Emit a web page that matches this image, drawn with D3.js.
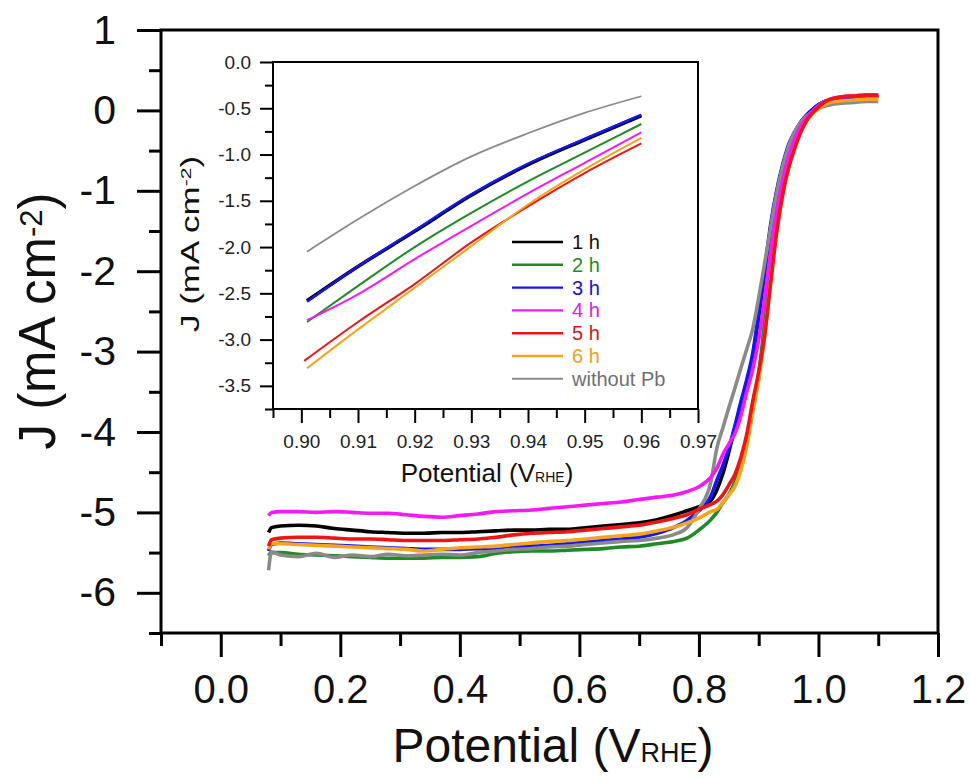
<!DOCTYPE html>
<meta charset="utf-8">
<script src="https://d3js.org/d3.v7.min.js"></script>
<style>
  body { margin: 0; background: #fff; }
  text { font-family: "Liberation Sans", Arial, sans-serif; }
</style>
<body>
<div id="chart"></div>
<script>

// main LSV curves, common potential grid (V vs RHE)
var potential = [0.08, 0.085, 0.10, 0.13, 0.16, 0.19, 0.22, 0.25, 0.28, 0.31, 0.34, 0.37, 0.40, 0.43, 0.46, 0.49,
  0.52, 0.55, 0.58, 0.61, 0.64, 0.67, 0.70, 0.73, 0.76, 0.78, 0.80, 0.82, 0.83, 0.84, 0.85, 0.86, 0.87, 0.88,
  0.89, 0.90, 0.91, 0.92, 0.93, 0.94, 0.95, 0.96, 0.97, 0.98, 0.99, 1.00, 1.01, 1.02, 1.04, 1.06, 1.08, 1.10];

var j1h = [-5.25, -5.19, -5.17, -5.16, -5.17, -5.20, -5.22, -5.24, -5.25, -5.26, -5.26, -5.25, -5.25, -5.24, -5.23, -5.22,
  -5.22, -5.21, -5.21, -5.19, -5.17, -5.15, -5.13, -5.09, -5.03, -4.98, -4.93, -4.85, -4.72, -4.52, -4.25, -3.96, -3.66, -3.38,
  -3.06, -2.57, -2.03, -1.46, -1.03, -0.70, -0.45, -0.28, -0.15, -0.06, 0.01, 0.07, 0.11, 0.13, 0.15, 0.16, 0.17, 0.17];
var j2h = [-5.54, -5.50, -5.50, -5.52, -5.53, -5.54, -5.55, -5.56, -5.57, -5.57, -5.57, -5.56, -5.56, -5.55, -5.51, -5.49,
  -5.48, -5.48, -5.47, -5.46, -5.45, -5.43, -5.42, -5.39, -5.36, -5.32, -5.22, -5.09, -5.00, -4.88, -4.78, -4.62, -4.40, -4.08,
  -3.65, -3.28, -2.62, -1.98, -1.36, -0.93, -0.60, -0.38, -0.22, -0.10, -0.01, 0.06, 0.11, 0.13, 0.15, 0.16, 0.17, 0.17];
var j3h = [-5.48, -5.40, -5.38, -5.39, -5.40, -5.41, -5.42, -5.43, -5.44, -5.45, -5.46, -5.46, -5.46, -5.45, -5.45, -5.43,
  -5.42, -5.41, -5.39, -5.37, -5.35, -5.33, -5.31, -5.26, -5.18, -5.10, -4.98, -4.80, -4.60, -4.42, -4.20, -3.93, -3.63, -3.35,
  -3.02, -2.52, -1.98, -1.42, -1.00, -0.68, -0.43, -0.27, -0.15, -0.06, 0.01, 0.07, 0.11, 0.13, 0.15, 0.16, 0.17, 0.17];
var j4h = [-5.04, -5.00, -4.99, -4.99, -5.00, -4.99, -5.00, -5.01, -5.01, -5.03, -5.05, -5.06, -5.04, -5.02, -4.99, -4.98,
  -4.97, -4.95, -4.93, -4.91, -4.89, -4.87, -4.84, -4.81, -4.78, -4.74, -4.68, -4.56, -4.45, -4.28, -4.15, -4.02, -3.80, -3.50,
  -3.22, -2.85, -2.33, -1.75, -1.26, -0.87, -0.57, -0.36, -0.20, -0.09, -0.01, 0.06, 0.11, 0.14, 0.17, 0.18, 0.19, 0.19];
var j5h = [-5.42, -5.34, -5.32, -5.31, -5.31, -5.32, -5.33, -5.33, -5.34, -5.35, -5.35, -5.35, -5.34, -5.33, -5.31, -5.28,
  -5.26, -5.25, -5.24, -5.22, -5.20, -5.18, -5.16, -5.12, -5.07, -5.03, -4.96, -4.90, -4.86, -4.78, -4.66, -4.53, -4.32, -4.03,
  -3.62, -3.25, -2.80, -2.15, -1.52, -1.05, -0.72, -0.48, -0.28, -0.13, -0.03, 0.04, 0.10, 0.14, 0.17, 0.18, 0.19, 0.19];
var j6h = [-5.46, -5.39, -5.39, -5.40, -5.41, -5.42, -5.43, -5.44, -5.45, -5.46, -5.48, -5.46, -5.44, -5.43, -5.42, -5.40,
  -5.38, -5.36, -5.35, -5.33, -5.31, -5.29, -5.27, -5.23, -5.18, -5.13, -5.07, -4.99, -4.96, -4.88, -4.78, -4.68, -4.48, -4.18,
  -3.75, -3.35, -2.80, -2.12, -1.52, -1.05, -0.70, -0.45, -0.27, -0.13, -0.04, 0.02, 0.07, 0.10, 0.12, 0.13, 0.14, 0.14];
var jNoPb = [-5.72, -5.49, -5.53, -5.55, -5.51, -5.56, -5.53, -5.55, -5.52, -5.54, -5.53, -5.52, -5.53, -5.50, -5.48, -5.46,
  -5.45, -5.43, -5.42, -5.40, -5.38, -5.36, -5.35, -5.32, -5.27, -5.19, -4.96, -4.62, -4.20, -3.95, -3.70, -3.46, -3.21, -2.97,
  -2.72, -2.33, -1.90, -1.46, -1.03, -0.70, -0.45, -0.27, -0.15, -0.07, -0.02, 0.02, 0.05, 0.07, 0.09, 0.10, 0.11, 0.11];

// inset (kinetic region)
var insetPotential = [0.901, 0.91, 0.92, 0.93, 0.94, 0.95, 0.96];
var in1h   = [-2.58, -2.21, -1.83, -1.44, -1.11, -0.84, -0.58];
var in2h   = [-2.81, -2.42, -2.00, -1.63, -1.29, -0.98, -0.67];
var in3h   = [-2.59, -2.21, -1.82, -1.43, -1.10, -0.83, -0.57];
var in4h   = [-2.79, -2.51, -2.13, -1.77, -1.42, -1.09, -0.76];
var in5h   = [-3.23, -2.81, -2.40, -1.95, -1.56, -1.20, -0.88];
var in6h   = [-3.31, -2.89, -2.44, -1.99, -1.54, -1.16, -0.82];
var inNoPb = [-2.05, -1.70, -1.34, -1.02, -0.77, -0.55, -0.37];

var labels = ["1 h", "2 h", "3 h", "4 h", "5 h", "6 h", "without Pb"];
var colors = ["#000000", "#1e8c23", "#1515f5", "#f51af5", "#f01414", "#f7a41c", "#8a8a8a"];
var textColors = ["#111111", "#1e8c23", "#1515d0", "#e020e0", "#d01818", "#f0a020", "#707070"];

var mainData = [j1h, j2h, j3h, j4h, j5h, j6h, jNoPb];
var insetData = [in1h, in2h, in3h, in4h, in5h, in6h, inNoPb];

var W = 970, H = 780;
var svg = d3.select("#chart").append("svg")
    .attr("width", W)
    .attr("height", H);

// ---------- main plot ----------
var x = d3.scaleLinear().domain([-0.1, 1.2]).range([161, 938]);
var y = d3.scaleLinear().domain([-6.5, 1]).range([633, 30]);

function styleAxis(g, fs) {
  g.select(".domain").remove();
  g.selectAll("line").attr("stroke", "#000").attr("stroke-width", 3);
  g.selectAll("text").attr("fill", "#111").style("font-size", fs + "px");
}

svg.append("g")
  .attr("transform", "translate(0,633)")
  .call(d3.axisBottom(x).tickValues(d3.range(0, 7).map(function(i) { return i * 0.2; }))
    .tickSize(24).tickPadding(18).tickFormat(d3.format(".1f")))
  .call(styleAxis, 40);
svg.append("g")
  .attr("transform", "translate(0,633)")
  .call(d3.axisBottom(x).tickValues(d3.range(0, 7).map(function(i) { return -0.1 + i * 0.2; }))
    .tickSize(13).tickFormat(""))
  .call(styleAxis, 40);

svg.append("g")
  .attr("transform", "translate(161,0)")
  .call(d3.axisLeft(y).tickValues(d3.range(-6, 2))
    .tickSize(24).tickPadding(21).tickFormat(function(d) { return String(d); }))
  .call(styleAxis, 41);
svg.append("g")
  .attr("transform", "translate(161,0)")
  .call(d3.axisLeft(y).tickValues(d3.range(0, 8).map(function(i) { return -6.5 + i; }))
    .tickSize(12).tickFormat(""))
  .call(styleAxis, 40);

svg.append("rect")
  .attr("x", x(-0.1)).attr("y", y(1))
  .attr("width", x(1.2) - x(-0.1)).attr("height", y(-6.5) - y(1))
  .attr("fill", "none").attr("stroke", "#000").attr("stroke-width", 3);

var line = d3.line()
  .x(function(d) { return x(d[0]); })
  .y(function(d) { return y(d[1]); })
  .curve(d3.curveMonotoneX);

// drawing order: black, green, blue, gray, orange, magenta, red
[0, 1, 2, 6, 5, 3, 4].forEach(function(k) {
  svg.append("path")
    .datum(potential.map(function(p, i) { return [p, mainData[k][i]]; }))
    .attr("d", line)
    .attr("fill", "none")
    .attr("stroke", colors[k])
    .attr("stroke-width", 3.6)
    .attr("stroke-linejoin", "round");
});

// axis titles
var xt = svg.append("text")
  .attr("x", 553).attr("y", 762)
  .attr("text-anchor", "middle")
  .attr("fill", "#111")
  .style("font-size", "48px");
xt.append("tspan").text("Potential (V");
xt.append("tspan").style("font-size", "27px").text("RHE");
xt.append("tspan").text(")");

var yt = svg.append("text")
  .attr("transform", "translate(55,321) rotate(-90)")
  .attr("text-anchor", "middle")
  .attr("fill", "#111")
  .style("font-size", "51px");
yt.append("tspan").text("J (mA cm");
yt.append("tspan").attr("dy", "-13").style("font-size", "31px").text("-2");
yt.append("tspan").attr("dy", "13").text(")");

// ---------- inset ----------
var ix = d3.scaleLinear().domain([0.895, 0.97]).range([273, 698]);
var iy = d3.scaleLinear().domain([-3.75, 0]).range([409, 62]);

svg.append("rect")
  .attr("x", ix(0.895)).attr("y", iy(0))
  .attr("width", ix(0.97) - ix(0.895)).attr("height", iy(-3.75) - iy(0))
  .attr("fill", "#fff");

function styleInset(g) {
  g.select(".domain").remove();
  g.selectAll("line").attr("stroke", "#000").attr("stroke-width", 2);
  g.selectAll("text").attr("fill", "#222").style("font-size", "19px");
}

svg.append("g")
  .attr("transform", "translate(0,409)")
  .call(d3.axisBottom(ix).tickValues(d3.range(0, 8).map(function(i) { return 0.90 + i * 0.01; }))
    .tickSize(14).tickPadding(12).tickFormat(d3.format(".2f")))
  .call(styleInset);
svg.append("g")
  .attr("transform", "translate(0,409)")
  .call(d3.axisBottom(ix).tickValues(d3.range(0, 8).map(function(i) { return 0.895 + i * 0.01; }))
    .tickSize(9).tickFormat(""))
  .call(styleInset);
svg.append("g")
  .attr("transform", "translate(273,0)")
  .call(d3.axisLeft(iy).tickValues(d3.range(0, 8).map(function(i) { return -i * 0.5; }))
    .tickSize(13).tickPadding(9).tickFormat(function(d) { return d3.format(".1f")(d).replace("\u2212", "-"); }))
  .call(styleInset);
svg.append("g")
  .attr("transform", "translate(273,0)")
  .call(d3.axisLeft(iy).tickValues(d3.range(0, 8).map(function(i) { return -0.25 - i * 0.5; }))
    .tickSize(8).tickFormat(""))
  .call(styleInset);

svg.append("rect")
  .attr("x", ix(0.895)).attr("y", iy(0))
  .attr("width", ix(0.97) - ix(0.895)).attr("height", iy(-3.75) - iy(0))
  .attr("fill", "none").attr("stroke", "#000").attr("stroke-width", 2);

var iline = d3.line()
  .x(function(d) { return ix(d[0]); })
  .y(function(d) { return iy(d[1]); })
  .curve(d3.curveMonotoneX);

var insetWidths = [3.6, 2, 2.4, 2, 2, 2, 1.8];
// order: gray, black, blue, green, magenta, red, orange
[6, 0, 2, 1, 3, 4, 5].forEach(function(k) {
  var xs = insetPotential.slice();
  if (k == 4) xs[0] = 0.9005;
  svg.append("path")
    .datum(xs.map(function(p, i) { return [p, insetData[k][i]]; }))
    .attr("d", iline)
    .attr("fill", "none")
    .attr("stroke", colors[k])
    .attr("stroke-width", insetWidths[k]);
});

// legend
labels.forEach(function(name, i) {
  var ly = 242 + i * 22.8;
  svg.append("line")
    .attr("x1", 512).attr("x2", 563)
    .attr("y1", ly).attr("y2", ly)
    .attr("stroke", colors[i])
    .attr("stroke-width", i == 6 ? 2 : 2.4);
  svg.append("text")
    .attr("x", 572).attr("y", ly + 7)
    .attr("fill", textColors[i])
    .style("font-size", "20px")
    .text(name);
});

// inset titles
var ixt = svg.append("text")
  .attr("x", 487).attr("y", 482)
  .attr("text-anchor", "middle")
  .attr("fill", "#111")
  .style("font-size", "26px");
ixt.append("tspan").text("Potential (V");
ixt.append("tspan").style("font-size", "14px").text("RHE");
ixt.append("tspan").text(")");

// the inset y title is drawn stretched along its length, as in the figure
var iyt = svg.append("text")
  .attr("transform", "translate(199,244) rotate(-90) scale(1.4,1)")
  .attr("text-anchor", "middle")
  .attr("fill", "#111")
  .style("font-size", "25px");
iyt.append("tspan").text("J (mA cm");
iyt.append("tspan").attr("dy", "-8").style("font-size", "15px").text("-2");
iyt.append("tspan").attr("dy", "8").text(")");

</script>
</body>
